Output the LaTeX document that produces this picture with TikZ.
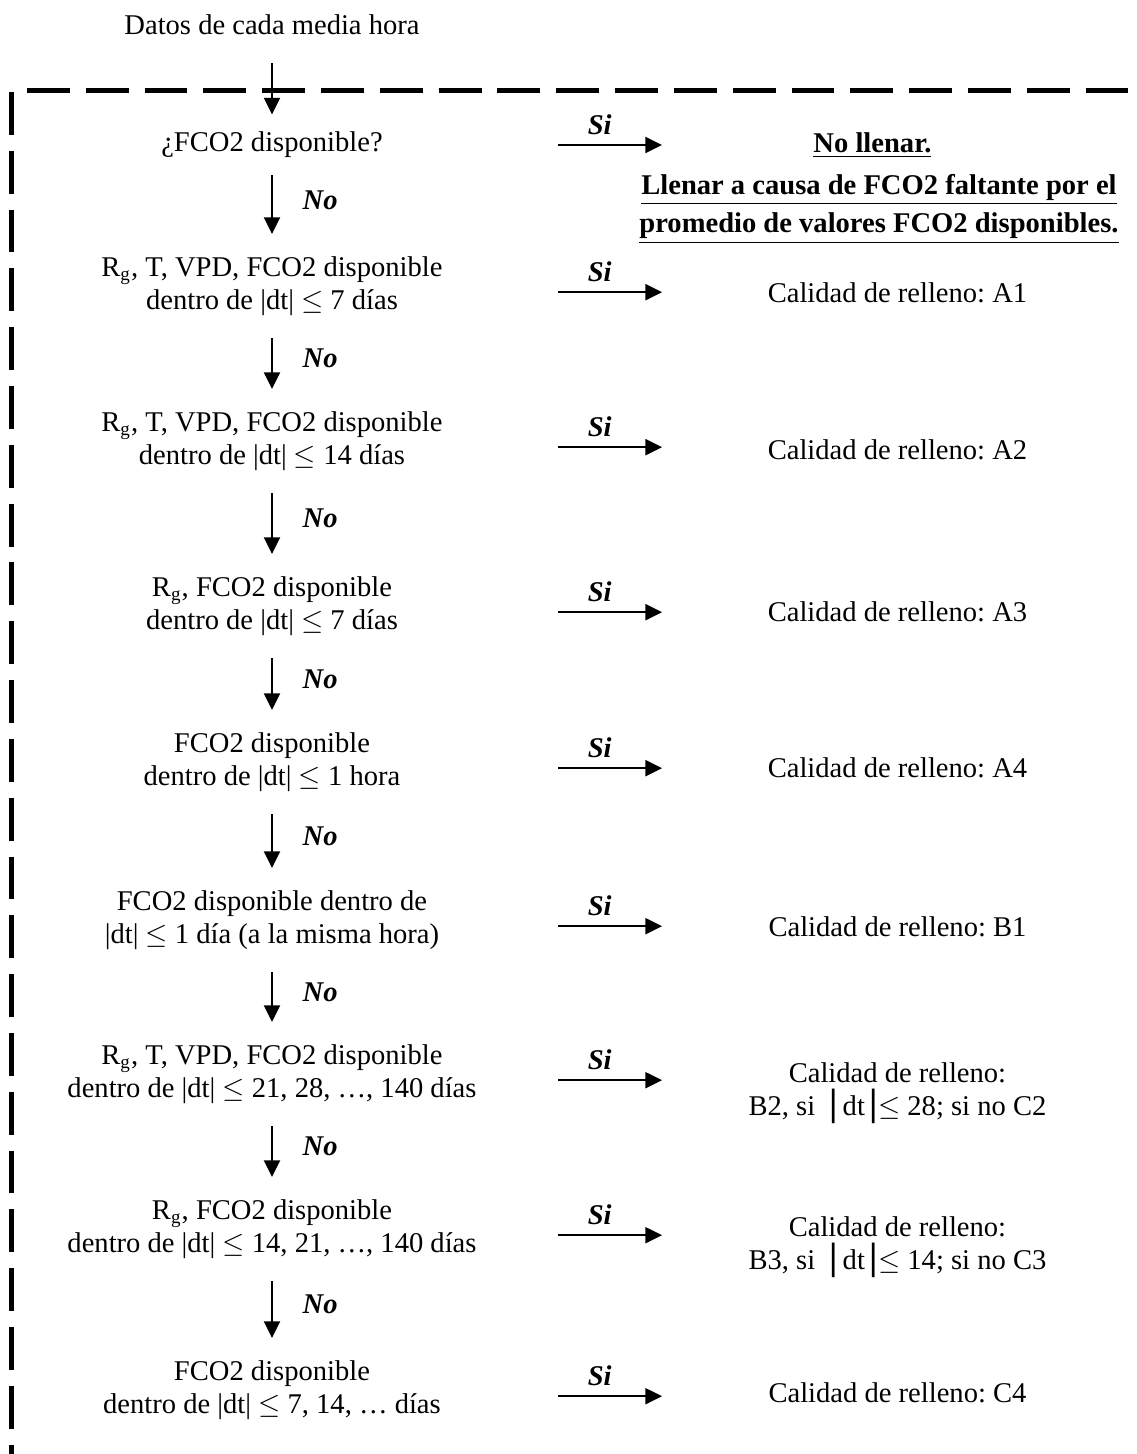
\documentclass[tikz,border=0pt]{standalone}
\usepackage{fontspec}
\setmainfont{Liberation Serif}
\usepackage{tikz}
\usetikzlibrary{positioning, arrows.meta}
\tikzset{
  start/.style    = {minimum height=31.9pt, inner sep=0pt, align=center},
  check/.style    = {minimum width=240pt, minimum height=43.3pt, inner sep=0pt, align=center},
  checkone/.style = {check, minimum height=25.2pt},
  result/.style   = {anchor=west, minimum width=197.4pt, inner sep=0pt, align=center},
  note/.style     = {inner sep=0pt, align=center, font=\fontsize{12}{16.2}\selectfont\bfseries},
  conn/.style     = {-{Triangle[length=7pt, width=6.8pt]}, line width=0.6pt},
  yes/.style      = {above, pos=0.4, inner sep=4pt, font=\fontsize{12}{13.9}\selectfont\bfseries\itshape},
  no/.style       = {anchor=west, midway, inner sep=0pt, xshift=12.6pt, yshift=2pt, font=\fontsize{12}{13.9}\selectfont\bfseries\itshape},
  frame/.style    = {line width=2.1pt, dash pattern=on 18pt off 6.7pt},
}
\newcommand{\Rg}{R\textsubscript{g}}
\newcommand{\leqdt}{$\leq$}
\newcommand{\bigbar}{{\fontsize{16}{16}\selectfont\bfseries |}}

\begin{document}
\frenchspacing
\begin{tikzpicture}[x=42pt, y=42pt, font=\fontsize{12}{13.9}\selectfont]
    \path[use as bounding box] (0,0) rectangle (11.36,-14.54);

    % ── Dashed frame ────────────────────────────────────────────
    \coordinate (topl)  at (0.27,-0.90);
    \coordinate (topr)  at (11.36,-0.90);
    \coordinate (leftt) at (0.12,-0.92);
    \coordinate (leftb) at (0.12,-14.54);
    \draw[frame] (topl) -- (topr);
    \draw[frame] (leftt) -- (leftb);

    % ── Questions (left column) ─────────────────────────────────
    \node[start]    (datos) at (2.72,-0.25)  {Datos de cada media hora};
    \node[checkone] (q1) at (2.72,-1.45)  {¿FCO2 disponible?};
    \node[check]    (q2) at (2.72,-2.86)  {\Rg, T, VPD, FCO2 disponible\\dentro de |dt| \leqdt{} 7 días};
    \node[check]    (q3) at (2.72,-4.41)  {\Rg, T, VPD, FCO2 disponible\\dentro de |dt| \leqdt{} 14 días};
    \node[check]    (q4) at (2.72,-6.06)  {\Rg, FCO2 disponible\\dentro de |dt| \leqdt{} 7 días};
    \node[check]    (q5) at (2.72,-7.62)  {FCO2 disponible\\dentro de |dt| \leqdt{} 1 hora};
    \node[check]    (q6) at (2.72,-9.20)  {FCO2 disponible dentro de\\|dt| \leqdt{} 1 día (a la misma hora)};
    \node[check]    (q7) at (2.72,-10.74) {\Rg, T, VPD, FCO2 disponible\\dentro de |dt| \leqdt{} 21, 28, …, 140 días};
    \node[check]    (q8) at (2.72,-12.29) {\Rg, FCO2 disponible\\dentro de |dt| \leqdt{} 14, 21, …, 140 días};
    \node[check]    (q9) at (2.72,-13.90) {FCO2 disponible\\dentro de |dt| \leqdt{} 7, 14, … días};

    % ── Results (right column) ──────────────────────────────────
    \node[result, minimum width=176.4pt] (r1) at (6.62,-1.45) {\textbf{\underline{No llenar.}}};
    \node[note] (fill) at (8.79,-2.09)
      {\underline{Llenar a causa de FCO2 faltante por el}\\\underline{promedio de valores FCO2 disponibles.}};
    \node[result] (r2) at (6.62,-2.93)  {Calidad de relleno: A1};
    \node[result] (r3) at (6.62,-4.50)  {Calidad de relleno: A2};
    \node[result] (r4) at (6.62,-6.12)  {Calidad de relleno: A3};
    \node[result] (r5) at (6.62,-7.68)  {Calidad de relleno: A4};
    \node[result] (r6) at (6.62,-9.27)  {Calidad de relleno: B1};
    \node[result] (r7) at (6.62,-10.93) {Calidad de relleno:\\B2, si\ \ \bigbar\,dt\,\bigbar\leqdt{} 28; si no C2};
    \node[result] (r8) at (6.62,-12.47) {Calidad de relleno:\\B3, si\ \ \bigbar\,dt\,\bigbar\leqdt{} 14; si no C3};
    \node[result] (r9) at (6.62,-13.93) {Calidad de relleno: C4};

    % ── No arrows ───────────────────────────────────────────────
    \draw[conn] (datos) -- (q1);
    \draw[conn] (q1) -- (q2) node[no] {No};
    \draw[conn] (q2) -- (q3) node[no] {No};
    \draw[conn] (q3) -- (q4) node[no] {No};
    \draw[conn] (q4) -- (q5) node[no] {No};
    \draw[conn] (q5) -- (q6) node[no] {No};
    \draw[conn] (q6) -- (q7) node[no] {No};
    \draw[conn] (q7) -- (q8) node[no] {No};
    \draw[conn] (q8) -- (q9) node[no] {No};

    % ── Si arrows ───────────────────────────────────────────────
    \draw[conn] (q1.east) -- (q1.east -| r1.west) node[yes] {Si};
    \foreach \i in {2,...,9}{
      \draw[conn] ([yshift=-2.6pt]q\i.east) -- ([yshift=-2.6pt]q\i.east -| r\i.west) node[yes] {Si};
    }
\end{tikzpicture}
\end{document}
